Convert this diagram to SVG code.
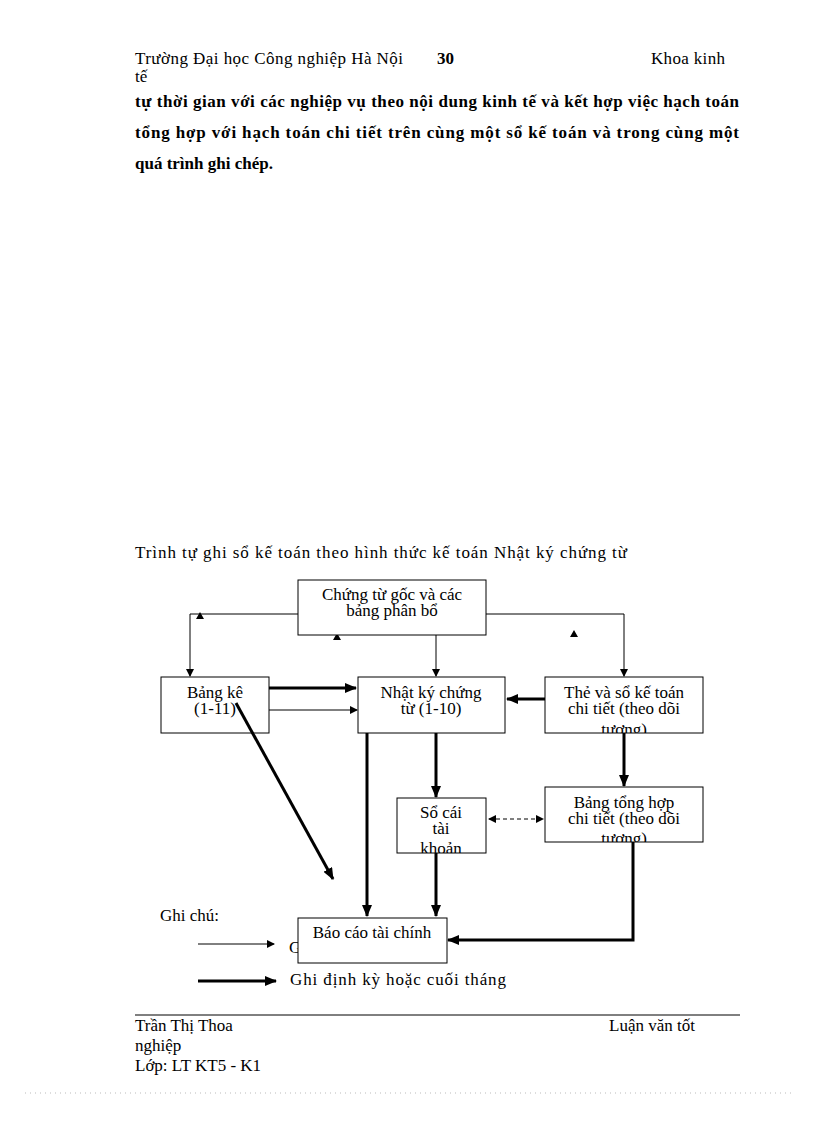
<svg xmlns="http://www.w3.org/2000/svg" width="816" height="1123" viewBox="0 0 816 1123">
<style>
text{font-family:"Liberation Serif",serif;fill:#000}
.t{font-size:17px}
.b{font-size:17px;font-weight:bold}
.n{font-size:17px;text-anchor:middle}
rect{fill:#fff;stroke:#000;stroke-width:1}
.thin{stroke:#000;stroke-width:1;fill:none}
.thick{stroke:#000;stroke-width:3;fill:none}
</style>
<defs>
<marker id="a" markerWidth="8" markerHeight="8" refX="7" refY="4" orient="auto" markerUnits="userSpaceOnUse"><path d="M0,0L8,4L0,8z"/></marker>
<marker id="A" markerWidth="12" markerHeight="10" refX="11" refY="5" orient="auto" markerUnits="userSpaceOnUse"><path d="M0,0L12,5L0,10z"/></marker>
<marker id="s" markerWidth="8" markerHeight="8" refX="1" refY="4" orient="auto" markerUnits="userSpaceOnUse"><path d="M8,0L0,4L8,8z"/></marker>
<clipPath id="c4"><rect x="545" y="677" width="158" height="56"/></clipPath>
<clipPath id="c5"><rect x="397" y="798" width="89" height="55"/></clipPath>
<clipPath id="c6"><rect x="545" y="787" width="158" height="55"/></clipPath>
</defs>
<rect x="0" y="0" width="816" height="1123" style="stroke:none"/>
<text class="t" x="135" y="64" textLength="268">Trường Đại học Công nghiệp Hà Nội</text>
<text class="b" x="437" y="64">30</text>
<text class="t" x="651" y="64" textLength="74">Khoa kinh</text>
<text class="t" x="135" y="82">tế</text>
<text class="b" x="135" y="107" textLength="604">tự thời gian với các nghiệp vụ theo nội dung kinh tế và kết hợp việc hạch toán</text>
<text class="b" x="135" y="138" textLength="604">tổng hợp với hạch toán chi tiết trên cùng một sổ kế toán và trong cùng một</text>
<text class="b" x="135" y="169">quá trình ghi chép.</text>
<text class="t" x="135" y="558" textLength="492">Trình tự ghi sổ kế toán theo hình thức kế toán Nhật ký chứng từ</text>

<text class="t" x="160" y="921">Ghi chú:</text>
<text class="t" x="289" y="953">G</text>
<text class="t" x="290" y="985" textLength="216">Ghi định kỳ hoặc cuối tháng</text>

<g id="connectors">
<polyline class="thin" points="298,614 190,614 190,676" marker-end="url(#a)"/>
<polyline class="thin" points="486,614 624,614 624,676" marker-end="url(#a)"/>
<line class="thin" x1="436" y1="635" x2="436" y2="676" marker-end="url(#a)"/>
<path d="M196,619L200,612L204,619z M333,640L337,633L341,640z M570,637L574,630L578,637z"/>
<line class="thick" x1="269" y1="688" x2="356" y2="688" marker-end="url(#A)"/>
<line class="thin" x1="269" y1="710" x2="357" y2="710" marker-end="url(#a)"/>
<line class="thick" x1="545" y1="699" x2="507" y2="699" marker-end="url(#A)"/>
<line class="thick" x1="436" y1="733" x2="436" y2="797" marker-end="url(#A)"/>
<line class="thick" x1="624" y1="733" x2="624" y2="786" marker-end="url(#A)"/>
<line class="thin" x1="489" y1="819" x2="543" y2="819" stroke-dasharray="4,3" marker-start="url(#s)" marker-end="url(#a)"/>
<line class="thick" x1="367" y1="733" x2="367" y2="916" marker-end="url(#A)"/>
<line class="thick" x1="436" y1="853" x2="436" y2="916" marker-end="url(#A)"/>
<polyline class="thick" points="633,842 633,940 448,940" marker-end="url(#A)"/>
<line class="thin" x1="198" y1="944" x2="274" y2="944" marker-end="url(#a)"/>
<line class="thick" x1="198" y1="981" x2="276" y2="981" marker-end="url(#A)"/>
</g>

<g id="n1"><rect x="298" y="580" width="188" height="55"/><text class="n" x="392" y="600">Chứng từ gốc và các</text><text class="n" x="392" y="616">bảng phân bổ</text></g>
<g id="n2"><rect x="161" y="677" width="108" height="56"/><text class="n" x="215" y="698">Bảng kê</text><text class="n" x="215" y="714">(1-11)</text></g>
<g id="n3"><rect x="358" y="677" width="147" height="56"/><text class="n" x="431" y="698">Nhật ký chứng</text><text class="n" x="431" y="714">từ (1-10)</text></g>
<g id="n4"><rect x="545" y="677" width="158" height="56"/><g clip-path="url(#c4)"><text class="n" x="624" y="698">Thẻ và sổ kế toán</text><text class="n" x="624" y="714">chi tiết (theo dõi</text><text class="n" x="624" y="735">tương)</text></g></g>
<g id="n5"><rect x="397" y="798" width="89" height="55"/><g clip-path="url(#c5)"><text class="n" x="441" y="818">Sổ cái</text><text class="n" x="441" y="834">tài</text><text class="n" x="441" y="854">khoản</text></g></g>
<g id="n6"><rect x="545" y="787" width="158" height="55"/><g clip-path="url(#c6)"><text class="n" x="624" y="808">Bảng tổng hợp</text><text class="n" x="624" y="824">chi tiết (theo dõi</text><text class="n" x="624" y="844">tương)</text></g></g>
<g id="n7"><rect x="298" y="918" width="149" height="45"/><text class="n" x="372" y="938">Báo cáo tài chính</text></g>

<line class="thick" x1="236" y1="703" x2="333" y2="879" marker-end="url(#A)"/>

<line x1="135" y1="1015" x2="740" y2="1015" stroke="#000" stroke-width="1"/>
<text class="t" x="135" y="1031">Trần Thị Thoa</text>
<text class="t" x="609" y="1031">Luận văn tốt</text>
<text class="t" x="135" y="1051">nghiệp</text>
<text class="t" x="135" y="1071">Lớp: LT KT5  - K1</text>
<line x1="25" y1="1093" x2="795" y2="1093" stroke="#bbb" stroke-width="1" stroke-dasharray="1,4"/>
</svg>
